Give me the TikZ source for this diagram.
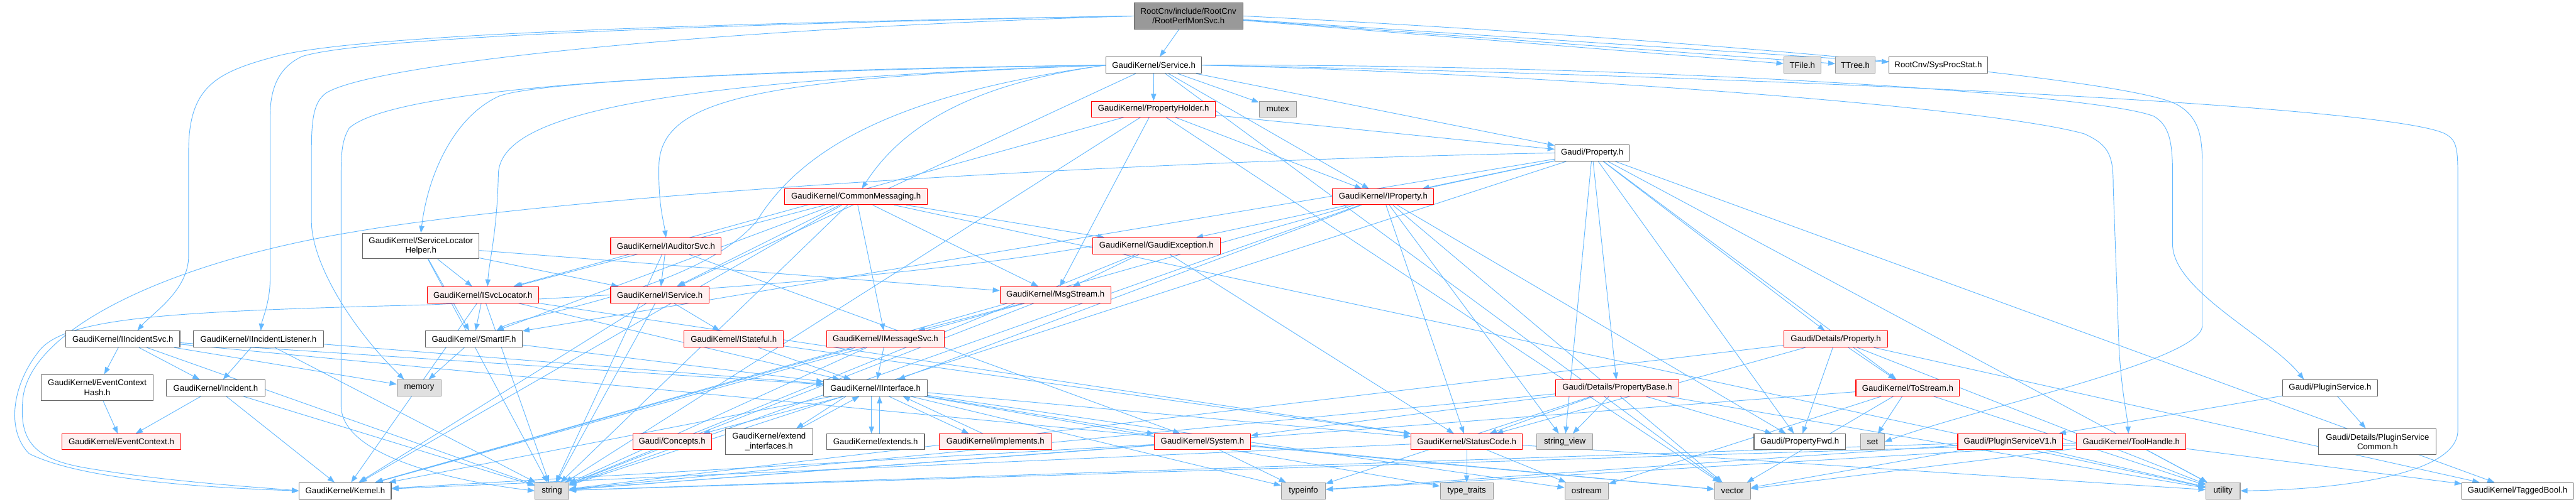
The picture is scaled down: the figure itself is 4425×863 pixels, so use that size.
\documentclass[tikz,border=0pt]{standalone}
\usepackage{fontspec}
\setmainfont{Liberation Sans}
\usetikzlibrary{arrows.meta}
\pgfdeclarelayer{bg}
\pgfsetlayers{bg,main}
\definecolor{edgec}{HTML}{63B8FF}
\definecolor{bwhite}{HTML}{666666}
\definecolor{bred}{HTML}{FF0000}
\definecolor{fred}{HTML}{FFF0F0}
\definecolor{bgray}{HTML}{999999}
\definecolor{fgray}{HTML}{E0E0E0}
\definecolor{froot}{HTML}{999999}
\tikzset{
  nbox/.style={rectangle, inner sep=0pt, line width=1.2pt, font=\fontsize{14.3}{16.7}\selectfont, align=center, text=black},
  wn/.style={nbox, draw=bwhite, fill=white},
  rn/.style={nbox, draw=bred, fill=fred},
  gn/.style={nbox, draw=bgray, fill=fgray},
  rootn/.style={nbox, draw=bwhite, fill=froot},
  e/.style={draw=edgec, line width=1pt, -{Triangle[length=12pt,width=9pt]}},
}
\newcommand\mynode[7]{\node[#1, minimum width=#5pt, minimum height=#6pt] (#2) at (#3,#4) {#7};}
\begin{document}
\begin{tikzpicture}[x=1pt,y=-1pt]
\useasboundingbox (0,0) rectangle (4425,863);
% row 0-1
\mynode{rootn}{root}{2041.5}{27.5}{187}{45}{RootCnv/include/RootCnv\\/RootPerfMonSvc.h}
\mynode{wn}{service}{1982}{112}{164}{28}{GaudiKernel/Service.h}
\mynode{gn}{tfile}{3096}{112}{64}{28}{TFile.h}
\mynode{gn}{ttree}{3187}{112}{68}{28}{TTree.h}
\mynode{wn}{sysproc}{3329.5}{112}{169}{28}{RootCnv/SysProcStat.h}
% row 2-5
\mynode{rn}{propholder}{1981.5}{187.5}{213}{27}{GaudiKernel/PropertyHolder.h}
\mynode{gn}{mutex}{2195}{187.5}{64}{27}{mutex}
\mynode{wn}{gproperty}{2735}{263}{128}{28}{Gaudi/Property.h}
\mynode{rn}{commonmsg}{1470.5}{338.5}{245}{27}{GaudiKernel/CommonMessaging.h}
\mynode{rn}{iproperty}{2376}{338.5}{174}{27}{GaudiKernel/IProperty.h}
\mynode{rn}{iauditor}{1144}{423}{190}{28}{GaudiKernel/IAuditorSvc.h}
\mynode{rn}{gexception}{1986.5}{423}{219}{28}{GaudiKernel/GaudiException.h}
\mynode{wn}{slhelper}{723}{423}{200}{44}{GaudiKernel/ServiceLocator\\Helper.h}
% row 6
\mynode{rn}{isvcloc}{829.5}{507}{191}{28}{GaudiKernel/ISvcLocator.h}
\mynode{rn}{iservice}{1133.5}{507}{169}{28}{GaudiKernel/IService.h}
\mynode{rn}{msgstream}{1813}{507}{190}{28}{GaudiKernel/MsgStream.h}
% row 7
\mynode{wn}{iincsvc}{211}{583}{196}{28}{GaudiKernel/IIncidentSvc.h}
\mynode{wn}{iinclist}{444}{583}{224}{28}{GaudiKernel/IIncidentListener.h}
\mynode{wn}{smartif}{814}{583}{166}{28}{GaudiKernel/SmartIF.h}
\mynode{rn}{istateful}{1260.5}{583}{171}{28}{GaudiKernel/IStateful.h}
\mynode{rn}{imsgsvc}{1521}{583}{202}{28}{GaudiKernel/IMessageSvc.h}
\mynode{rn}{detprop}{3153.5}{583}{179}{28}{Gaudi/Details/Property.h}
% row 8
\mynode{wn}{echash}{167}{666.5}{192}{45}{GaudiKernel/EventContext\\Hash.h}
\mynode{wn}{incident}{370.5}{667}{169}{28}{GaudiKernel/Incident.h}
\mynode{gn}{memory}{720}{667}{76}{28}{memory}
\mynode{wn}{iinterface}{1504}{667}{178}{28}{GaudiKernel/IInterface.h}
\mynode{rn}{propbase}{2778}{667}{212}{28}{Gaudi/Details/PropertyBase.h}
\mynode{rn}{tostream}{3277}{667}{178}{28}{GaudiKernel/ToStream.h}
\mynode{wn}{pluginsvc}{4002.5}{667}{163}{28}{Gaudi/PluginService.h}
% row 9
\mynode{rn}{econtext}{208.5}{759.5}{205}{27}{GaudiKernel/EventContext.h}
\mynode{rn}{concepts}{1154.5}{759.5}{135}{27}{Gaudi/Concepts.h}
\mynode{wn}{extendif}{1321}{759.5}{150}{45}{GaudiKernel/extend\\\_interfaces.h}
\mynode{wn}{extends}{1504}{759.5}{168}{27}{GaudiKernel/extends.h}
\mynode{rn}{implements}{1710}{759.5}{194}{27}{GaudiKernel/implements.h}
\mynode{rn}{system}{2065.5}{759.5}{165}{27}{GaudiKernel/System.h}
\mynode{rn}{statuscode}{2519.5}{759.5}{191}{27}{GaudiKernel/StatusCode.h}
\mynode{gn}{stringview}{2688}{759.5}{96}{27}{string\_view}
\mynode{wn}{propfwd}{3091.5}{759.5}{157}{27}{Gaudi/PropertyFwd.h}
\mynode{gn}{set}{3216.5}{759.5}{41}{27}{set}
\mynode{rn}{psv1}{3453}{759.5}{180}{27}{Gaudi/PluginServiceV1.h}
\mynode{rn}{toolhandle}{3661}{759.5}{188}{27}{GaudiKernel/ToolHandle.h}
\mynode{wn}{pscommon}{4084}{759.5}{202}{45}{Gaudi/Details/PluginService\\Common.h}
% row 10
\mynode{wn}{kernel}{593}{844}{158}{28}{GaudiKernel/Kernel.h}
\mynode{gn}{string}{948}{844}{58}{28}{string}
\mynode{gn}{typeinfo}{2239}{844}{76}{28}{typeinfo}
\mynode{gn}{typetraits}{2519.5}{844}{91}{28}{type\_traits}
\mynode{gn}{ostream}{2725.5}{844}{75}{28}{ostream}
\mynode{gn}{vector}{2976}{844}{62}{28}{vector}
\mynode{gn}{utility}{3818.5}{844}{59}{28}{utility}
\mynode{wn}{taggedbool}{4324.5}{844}{191}{28}{GaudiKernel/TaggedBool.h}

\begin{pgfonlayer}{bg}
\foreach \s/\t in {
 root/service, root/tfile, root/ttree, root/sysproc,
 service/propholder, service/mutex, service/gproperty, service/iproperty, service/iservice, service/vector,
 propholder/gproperty, propholder/iproperty, propholder/msgstream, propholder/isvcloc, propholder/vector, propholder/string,
 commonmsg/gexception, commonmsg/msgstream, commonmsg/imsgsvc, commonmsg/iservice, commonmsg/isvcloc, commonmsg/smartif, commonmsg/kernel, commonmsg/string, commonmsg/utility,
 iauditor/iservice, iauditor/system, iauditor/string,
 gexception/msgstream, gexception/statuscode, gexception/string,
 gproperty/detprop, gproperty/propbase, gproperty/propfwd, gproperty/iproperty, gproperty/gexception, gproperty/stringview, gproperty/tostream, gproperty/taggedbool, gproperty/utility, gproperty/smartif, gproperty/string,
 iproperty/iinterface, iproperty/kernel, iproperty/statuscode, iproperty/string, iproperty/stringview, iproperty/propfwd, iproperty/vector,
 isvcloc/iinterface, isvcloc/smartif, isvcloc/kernel, isvcloc/string, isvcloc/statuscode,
 iservice/istateful, iservice/kernel, iservice/string,
 istateful/iinterface, istateful/statuscode,
 smartif/iinterface, smartif/memory,
 slhelper/isvcloc, slhelper/iservice, slhelper/smartif, slhelper/string, slhelper/msgstream,
 iincsvc/echash, iincsvc/incident, iincsvc/memory, iincsvc/iinterface, iincsvc/string, iincsvc/vector,
 iinclist/incident, iinclist/iinterface, iinclist/string,
 echash/econtext,
 incident/econtext, incident/kernel, incident/string,
 msgstream/imsgsvc, msgstream/string, msgstream/kernel,
 imsgsvc/iinterface, imsgsvc/string, imsgsvc/kernel,
 iinterface/kernel, iinterface/concepts, iinterface/system, iinterface/statuscode, iinterface/typeinfo, iinterface/typetraits, iinterface/ostream,
 system/kernel, system/string, system/typeinfo, system/vector,
 statuscode/kernel, statuscode/typetraits, statuscode/ostream, statuscode/utility,
 propbase/system, propbase/statuscode, propbase/stringview, propbase/typeinfo, propbase/string, propbase/propfwd, propbase/utility,
 detprop/tostream, detprop/propfwd, detprop/statuscode, detprop/string, detprop/utility, detprop/taggedbool,
 tostream/set, tostream/vector, tostream/string, tostream/ostream, tostream/utility,
 psv1/string, psv1/typeinfo, psv1/vector, psv1/utility,
 toolhandle/taggedbool, toolhandle/utility, toolhandle/string, toolhandle/vector, toolhandle/typeinfo,
 pluginsvc/psv1, pluginsvc/pscommon}
 \draw[e] (\s) -- (\t);
% mutual includes with IInterface
\draw[e] ([xshift=-7pt]iinterface.south) -- ([xshift=-7pt]extends.north);
\draw[e] ([xshift=7pt]extends.north) -- ([xshift=7pt]iinterface.south);
\draw[e] ([xshift=23pt]iinterface.south) -- ([xshift=-46pt]implements.north);
\draw[e] ([xshift=-22pt]implements.north) -- ([xshift=47pt]iinterface.south);
\draw[e] ([xshift=-51pt]iinterface.south) -- ([xshift=47pt]extendif.north);
\draw[e] ([xshift=54pt]extendif.north) -- ([xshift=-28pt]iinterface.south);
% long routed connectors
\draw[e] (root.west) .. controls (1200,40) and (600,60) .. (470,98) .. controls (370,125) and (324,150) .. (324,260) -- (324,440) .. controls (324,500) and (260,540) .. ([xshift=25pt]iincsvc.north);
\draw[e] (root.west) .. controls (1200,42) and (620,65) .. (519,97) .. controls (480,115) and (464,150) .. (464,200) -- (464,480) .. controls (464,520) and (450,550) .. ([xshift=4pt]iinclist.north);
\draw[e] (root.west) .. controls (1200,50) and (640,110) .. (560,160) .. controls (540,175) and (535,200) .. (535,260) -- (535,380) .. controls (535,450) and (600,560) .. ([xshift=-26pt]memory.north);
\draw[e] (root.east) .. controls (2800,60) and (3650,130) .. (3740,180) .. controls (3775,200) and (3783,230) .. (3783,280) -- (3783,560) .. controls (3783,620) and (3400,700) .. (set.east);
\draw[e] (service.west) .. controls (1100,125) and (900,150) .. (858,165) .. controls (780,200) and (735,300) .. (slhelper.north);
\draw[e] (service.west) .. controls (1100,140) and (858,200) .. (856,300) .. controls (854,400) and (840,450) .. ([xshift=8pt]isvcloc.north);
\draw[e] (service.west) .. controls (1300,135) and (1140,170) .. (1132,280) .. controls (1130,350) and (1140,380) .. (iauditor.north);
\draw[e] (service.west) .. controls (1700,140) and (1560,200) .. ([xshift=10pt]commonmsg.north);
\draw[e] (service.west) .. controls (1550,160) and (1380,250) .. (1300,380) .. controls (1200,500) and (900,540) .. ([xshift=39pt]smartif.north);
\draw[e] (service.west) .. controls (1200,120) and (680,150) .. (600,220) .. controls (588,240) and (586,260) .. (586,300) -- (586,700) .. controls (590,790) and (800,830) .. (string.west);
\draw[e] (service.east) .. controls (2600,125) and (3400,180) .. (3580,230) .. controls (3625,250) and (3630,270) .. (3630,320) -- (3640,600) .. controls (3645,680) and (3655,720) .. ([xshift=-5pt]toolhandle.north);
\draw[e] (service.east) .. controls (2800,110) and (3600,160) .. (3700,200) .. controls (3725,215) and (3732,240) .. (3732,300) -- (3732,420) .. controls (3732,500) and (3900,580) .. ([xshift=-45pt]pluginsvc.north);
\draw[e] (service.east) .. controls (3000,130) and (4100,180) .. (4200,230) .. controls (4218,240) and (4222,250) .. (4222,300) -- (4222,740) .. controls (4222,820) and (4000,842) .. (utility.east);
\draw[e] (gproperty.west) .. controls (2000,275) and (1000,330) .. (600,400) .. controls (300,450) and (60,560) .. (40,680) .. controls (30,760) and (60,790) .. (150,805) .. controls (300,830) and (450,838) .. (kernel.west);
\draw[e] (gexception.west) .. controls (1500,490) and (900,515) .. (740,524) .. controls (300,535) and (120,545) .. (70,600) .. controls (20,660) and (10,740) .. (50,780) .. controls (150,830) and (400,840) .. (kernel.west);
\end{pgfonlayer}
\end{tikzpicture}
\end{document}
